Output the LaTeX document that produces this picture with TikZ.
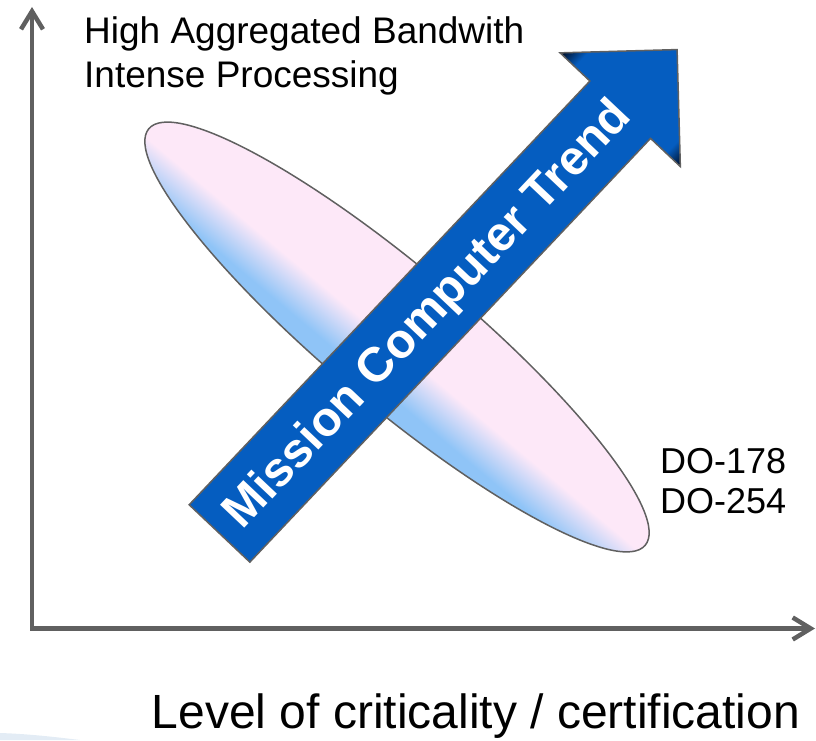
\documentclass[tikz,border=0pt]{standalone}
\usepackage{fontspec}
\setmainfont{Liberation Sans}
\usetikzlibrary{arrows.meta,shapes.arrows}
\definecolor{axisgray}{HTML}{606060}
\definecolor{trendblue}{HTML}{055DC0}
\definecolor{trenddark}{HTML}{000A1E}
\definecolor{lightblue}{HTML}{8FC4F7}
\definecolor{lightpink}{HTML}{FDE8F8}
\definecolor{swoosh}{HTML}{E3ECF5}
\newcommand{\Sz}[2]{\fontsize{#1}{#2}\selectfont}
\pgfdeclareverticalshading{ellshade}{100bp}{color(0bp)=(lightblue); color(25bp)=(lightblue);
    color(32bp)=(lightblue); color(47bp)=(lightpink); color(100bp)=(lightpink)}
\pgfdeclareverticalshading{trendshade}{100bp}{color(0bp)=(trenddark); color(25bp)=(trenddark);
    color(31bp)=(trendblue); color(69bp)=(trendblue); color(75bp)=(trenddark); color(100bp)=(trenddark)}

\begin{document}
\begin{tikzpicture}[
                    x=1pt, y=1pt,
                    >={Straight Barb[length=18pt,width=22pt]},
                    axis/.style={draw=axisgray, line width=4.5pt},
                    trend/.style={single arrow, draw=axisgray, line width=1.5pt,
                        shading=trendshade, text=white, inner sep=0pt,
                        text height=56pt, text depth=26pt,
                        minimum height=666pt, minimum width=164pt,
                        single arrow head extend=41pt, single arrow tip angle=90,
                        font=\bfseries\Sz{48.5}{50}}]

                \useasboundingbox (0,0) rectangle (816,740);
                \fill[swoosh] (0,0) -- (0,7) .. controls (30,6) and (55,3) .. (80,0) -- cycle;

                \coordinate (Y) at (32,733);
                \coordinate (X) at (815,111.5);
                \draw[axis, <->] (Y) |- (X);

                % ellipse, gradient across its short axis
                \begin{scope}[transform canvas={rotate around={-40:(397,403)}}]
                    \draw[draw=axisgray, line width=1.5pt, shading=ellshade]
                        (397,403) ellipse [x radius=324, y radius=69];
                \end{scope}

                \coordinate (tail) at (219,206);
                \begin{scope}[transform canvas={rotate around={46.6:(tail)}}]
                    \node[trend, anchor=tail] (T) at (tail) {\kern-20pt Mission Computer Trend};
                \end{scope}

                \node[anchor=base west, align=left, inner sep=0pt, font=\Sz{37}{44}] (H) at (84,652)
                    {High Aggregated Bandwith\\Intense Processing};
                \node[anchor=base west, align=left, inner sep=0pt, font=\Sz{36}{40}] (D) at (660,227)
                    {DO-178\\DO-254};
                \node[anchor=base west, inner sep=0pt, font=\Sz{48}{50}] (L) at (151.5,12)
                    {Level of criticality / certification};

            \end{tikzpicture}
\end{document}
